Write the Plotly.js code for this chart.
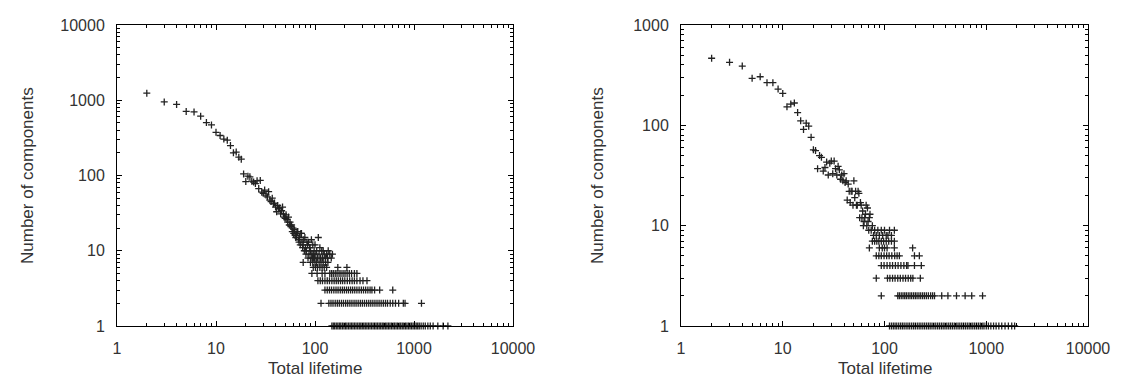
<!DOCTYPE html>
<html>
<head>
<meta charset="utf-8">
<script src="https://cdn.plot.ly/plotly-3.0.1.min.js"></script>
<style>html,body{margin:0;padding:0;background:#fff;}#chart{width:1125px;height:379px;}</style>
</head>
<body>
<div id="chart"></div>
<script>
// ---------- Left panel ----------
const leftCurveX = [2,3,4,5,6,7,8,9,10,11,12,13,14,15,16,17,18,19,20,21,22,23,24,25,26,27,28,29,30,31,32,33,34,35,36,37,38,39,40,41,42,43,44,45,46,47,48,49,50,51,52,53,54,55,56,57,58,59,60,61,62,63,64,65,66,67,68,69,70,71,72,73,74,75,76,77,78,79,80,81,82,83,84,85,86,87,88,89,90,91,92,93,94,95,96,97,98,99,100,102,104,106,108,110,112,114,117,119,121,124,127,131,134,136,141,146,150];
const leftCurveY = [1240,950,880,710,700,615,505,470,375,340,305,295,250,200,205,175,165,105,83,98,96,84,82,78,85,67,86,60,58,64,55,52,61,47,45,50,42,43,38,33,40,36,37,31,34,38,31,28,27,30,26,24,28,22,24,21,22,18,20,17,19,16,15,16,18,18,14,13,15,12,17,17,13,11,12,14,10,15,11,9,10,13,12,8,13,9,11,11,10,8,14,9,8,12,9,8,10,8,12,9,10,8,15,9,11,8,10,8,10,9,8,9,8,10,9,8,9];
const leftRow7 = [76,90,95,100,104,110,115,121,128,135];
const leftRow6 = [96,101,106,112,118,124,131,170,210];
const leftRow5 = [93,105,118,126,141,147,153,160,167,175,183,192,201,211,222,234,250,265];
const leftRow4 = [107,113,119,126,133,140,148,156,164,172,181,190,200,212,224,237,250,265,285,305,335];
const leftRow3 = [126,133,140,147,155,163,171,180,189,198,208,218,229,240,252,265,279,294,309,325,342,360,376,400,450,610];
const leftRow2 = [115,138,145,152,160,168,176,185,194,204,214,225,236,248,260,273,287,301,316,332,349,366,384,403,423,444,466,490,515,540,575,610,650,700,780,812,1190];
const leftRow1 = [148,153,158,164,170,176,182,189,196,203,210,218,226,234,242,251,260,270,280,290,300,311,322,334,346,359,372,386,400,414,429,445,461,478,495,513,532,551,571,592,614,636,659,683,708,734,761,789,818,848,879,911,944,979,1015,1052,1090,1130,1180,1240,1300,1380,1460,1560,1740,1970,2200];

// ---------- Right panel ----------
const rightCurveX = [2,3,4,5,6,7,8,9,10,11,12,13,14,15,16,17,18,19,20,21,22,23,24,25,26,27,28,29,30,31,32,33,34,35,36,37,38,39,40,41,42,43,44,45,46,47,48,49,50,51,52,53,54,55,56,57,58,59,60,61,62,63,64,65,66,67,68,69,70,71,72,74,76,78,80,83,86,89,93,96,100,104,108,112,117,125];
const rightCurveY = [466,425,390,294,305,266,266,230,208,153,163,167,134,111,91,105,98,76,57,56,37,50,48,35,38,43,32,42,44,33,44,37,32,39,36,29,32,28,33,27,28,18,26,22,17,22,22,16,28,19,22,16,16,22,21,12,17,16,12,14,10,11,12,13,16,10,15,11,9,12,13,9,10,8,9,8,9,8,9,8,9,8,8,9,8,9];
const rightRow7 = [76,80,84,88,93,98,104,110,117,125];
const rightRow6 = [71,89,95,100,106,125,189];
const rightRow5 = [83,88,93,99,105,111,118,126,133,140,197,220];
const rightRow4 = [93,99,106,113,120,128,136,145,155,165,170,197,230];
const rightRow3 = [83,107,113,120,127,135,143,152,161,171,181,190,225];
const rightRow2 = [93,135,140,146,152,158,164,171,178,185,193,201,209,218,227,237,247,258,270,284,297,310,365,420,510,620,720,920];
const rightRow1 = [112,117,122,127,132,138,144,150,156,163,170,177,185,193,201,210,219,228,238,248,259,270,281,293,306,319,333,347,362,377,393,410,428,446,465,485,506,528,550,574,598,624,651,679,708,738,770,803,837,873,911,950,1000,1050,1110,1180,1250,1330,1420,1530,1650,1780,1900];

const countLevels = [7,6,5,4,3,2,1];
const leftRows = [leftRow7,leftRow6,leftRow5,leftRow4,leftRow3,leftRow2,leftRow1];
const rightRows = [rightRow7,rightRow6,rightRow5,rightRow4,rightRow3,rightRow2,rightRow1];

const xTickVals = [1,10,100,1000,10000];
const xTickText = ['1','10','100','1000','10000'];
const yLeftTickVals = [1,10,100,1000,10000];
const yLeftTickText = ['1','10','100','1000','10000'];
const yRightTickVals = [1,10,100,1000];
const yRightTickText = ['1','10','100','1000'];

function assemble(cx, cy, rows) {
  const xs = cx.slice(), ys = cy.slice();
  rows.forEach((r, i) => r.forEach(v => { xs.push(v); ys.push(countLevels[i]); }));
  return [xs, ys];
}
const [lx, ly] = assemble(leftCurveX, leftCurveY, leftRows);
const [rx, ry] = assemble(rightCurveX, rightCurveY, rightRows);

const markerStyle = {symbol: 'cross-thin', size: 5, color: '#222', line: {width: 1.3, color: '#222'}};
const traces = [
  {x: lx, y: ly, type: 'scatter', mode: 'markers', marker: markerStyle, xaxis: 'x', yaxis: 'y', cliponaxis: false, hoverinfo: 'x+y'},
  {x: rx, y: ry, type: 'scatter', mode: 'markers', marker: markerStyle, xaxis: 'x2', yaxis: 'y2', cliponaxis: false, hoverinfo: 'x+y'}
];

const tickFont = {family: 'Liberation Sans, Arial, sans-serif', size: 16, color: '#333'};
const titleFont = {family: 'Liberation Sans, Arial, sans-serif', size: 17, color: '#333'};
function axis(extra) {
  return Object.assign({
    type: 'log', showline: true, linecolor: '#000', linewidth: 1, mirror: 'ticks',
    ticks: 'inside', ticklen: 5, tickwidth: 1, tickcolor: '#000',
    showgrid: false, zeroline: false, tickfont: tickFont, tickmode: 'array',
    minor: {ticks: 'inside', ticklen: 3, tickwidth: 1, tickcolor: '#000', showgrid: false, dtick: 'D1'},
    fixedrange: true
  }, extra);
}

const yDom = [1 - 326/379, 1 - 25/379];
const layout = {
  width: 1125, height: 379,
  margin: {l: 0, r: 0, t: 0, b: 0},
  paper_bgcolor: '#fff', plot_bgcolor: '#fff',
  showlegend: false,
  xaxis: axis({domain: [117/1125, 513/1125], range: [0, 4], anchor: 'y', tickvals: xTickVals, ticktext: xTickText, ticklabelstandoff: 8}),
  yaxis: axis({domain: yDom, range: [0, 4], anchor: 'x', tickvals: yLeftTickVals, ticktext: yLeftTickText, ticklabelstandoff: 8}),
  xaxis2: axis({domain: [681/1125, 1088/1125], range: [0, 4], anchor: 'y2', tickvals: xTickVals, ticktext: xTickText, ticklabelstandoff: 8}),
  yaxis2: axis({domain: yDom, range: [0, 3], anchor: 'x2', tickvals: yRightTickVals, ticktext: yRightTickText, ticklabelstandoff: 8}),
  annotations: [
    {text: 'Total lifetime', xref: 'paper', yref: 'paper', x: 315/1125, y: 0, xanchor: 'center', yanchor: 'bottom', borderpad: 0, showarrow: false, font: titleFont},
    {text: 'Total lifetime', xref: 'paper', yref: 'paper', x: 885/1125, y: 0, xanchor: 'center', yanchor: 'bottom', borderpad: 0, showarrow: false, font: titleFont},
    {text: 'Number of components', xref: 'paper', yref: 'paper', x: 27/1125, y: 1 - 176/379, xanchor: 'center', yanchor: 'middle', textangle: -90, showarrow: false, font: titleFont},
    {text: 'Number of components', xref: 'paper', yref: 'paper', x: 597/1125, y: 1 - 176/379, xanchor: 'center', yanchor: 'middle', textangle: -90, showarrow: false, font: titleFont}
  ]
};

Plotly.newPlot('chart', traces, layout, {displayModeBar: false, staticPlot: true});
</script>
</body>
</html>
